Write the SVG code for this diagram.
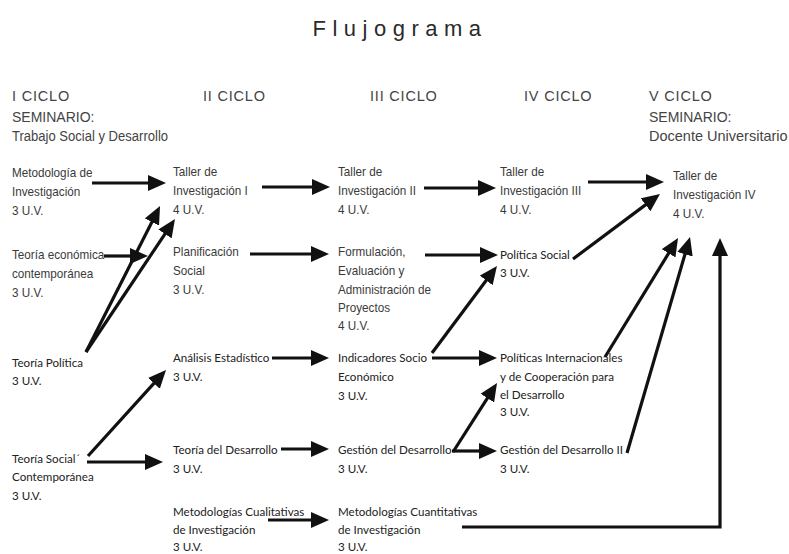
<svg xmlns="http://www.w3.org/2000/svg" width="789" height="554" viewBox="0 0 789 554">
<defs>
<style>
.t{font-family:"Liberation Sans",Arial,sans-serif;font-size:22px;fill:#2a2a2a;letter-spacing:6.5px}
.h{font-family:"Liberation Sans",Arial,sans-serif;font-size:14.5px;fill:#444;letter-spacing:0.8px}
.m{font-family:"Liberation Sans",Arial,sans-serif;font-size:14px;fill:#444}
.s{font-family:"Liberation Sans",Arial,sans-serif;font-size:14.5px;fill:#444}
.n{font-family:"Liberation Sans",Arial,sans-serif;font-size:13px;fill:#3a3a3a}
.g{font-family:Lato,"Open Sans",sans-serif;font-size:11.6px;fill:#222}
.c{fill:none;stroke:#111;stroke-width:3.2}
</style>
<marker id="ah" markerUnits="userSpaceOnUse" viewBox="0 0 18 16" markerWidth="18" markerHeight="16" refX="4" refY="8" orient="auto">
<path d="M0,0 L18,8 L0,16 z" fill="#111"/>
</marker>
</defs>
<rect width="789" height="554" fill="#fff"/>
<text class="t" x="400" y="36" text-anchor="middle">Flujograma</text>
<g id="headers">
<text class="h" x="12" y="101">I CICLO</text>
<text class="m" x="12" y="122">SEMINARIO:</text>
<text class="s" transform="translate(12,141) scale(0.9,1)">Trabajo Social y Desarrollo</text>
<text class="h" x="203" y="101">II CICLO</text>
<text class="h" x="370" y="101">III CICLO</text>
<text class="h" x="524" y="101">IV CICLO</text>
<text class="h" x="649" y="101">V CICLO</text>
<text class="m" x="649" y="122">SEMINARIO:</text>
<text class="s" x="649" y="141">Docente Universitario</text>
</g>
<g id="connectors">
<line class="c" x1="92" y1="183" x2="152" y2="183" marker-end="url(#ah)"/>
<line class="c" x1="262" y1="187" x2="316" y2="187" marker-end="url(#ah)"/>
<line class="c" x1="424" y1="188" x2="482" y2="188" marker-end="url(#ah)"/>
<line class="c" x1="588" y1="182" x2="650" y2="182" marker-end="url(#ah)"/>
<line class="c" x1="104" y1="256" x2="134" y2="256" marker-end="url(#ah)"/>
<line class="c" x1="250" y1="254" x2="315" y2="254" marker-end="url(#ah)"/>
<line class="c" x1="425" y1="255" x2="484" y2="255" marker-end="url(#ah)"/>
<line class="c" x1="272" y1="358" x2="315" y2="358" marker-end="url(#ah)"/>
<line class="c" x1="432" y1="358" x2="483" y2="358" marker-end="url(#ah)"/>
<line class="c" x1="281" y1="449" x2="315" y2="449" marker-end="url(#ah)"/>
<line class="c" x1="452" y1="451" x2="483" y2="451" marker-end="url(#ah)"/>
<line class="c" x1="268" y1="520" x2="315" y2="520" marker-end="url(#ah)"/>
<line class="c" x1="87" y1="462" x2="149" y2="462" marker-end="url(#ah)"/>
<line class="c" x1="86" y1="352" x2="153.7" y2="218.5" marker-end="url(#ah)"/>
<line class="c" x1="86" y1="352" x2="167.2" y2="230.6" marker-end="url(#ah)"/>
<line class="c" x1="88" y1="456" x2="156.6" y2="380.4" marker-end="url(#ah)"/>
<line class="c" x1="432" y1="353" x2="488.6" y2="277.2" marker-end="url(#ah)"/>
<line class="c" x1="453" y1="452" x2="489.5" y2="394.8" marker-end="url(#ah)"/>
<line class="c" x1="573" y1="259" x2="648.8" y2="202.4" marker-end="url(#ah)"/>
<line class="c" x1="605" y1="357" x2="670.7" y2="249.9" marker-end="url(#ah)"/>
<line class="c" x1="627" y1="453" x2="686.1" y2="250.4" marker-end="url(#ah)"/>
<polyline class="c" points="462,527 720,527 720,252" marker-end="url(#ah)"/>
</g>
<g id="metodologia-investigacion" transform="translate(12,0) scale(0.9,1)"><text class="n" x="0" y="177">Metodología de</text><text class="n" x="0" y="196">Investigación</text><text class="n" x="0" y="215">3 U.V.</text></g>
<g id="teoria-economica" transform="translate(12,0) scale(0.9,1)"><text class="n" x="0" y="259">Teoría económica</text><text class="n" x="0" y="278">contemporánea</text><text class="n" x="0" y="297">3 U.V.</text></g>
<g id="teoria-politica"><text class="g" x="12" y="367">Teoría Política</text><text class="g" x="12" y="385">3 U.V.</text></g>
<g id="teoria-social"><text class="g" x="12" y="463">Teoría Social´</text><text class="g" x="12" y="481">Contemporánea</text><text class="g" x="12" y="500">3 U.V.</text></g>
<g id="taller-1" transform="translate(173,0) scale(0.9,1)"><text class="n" x="0" y="176">Taller de</text><text class="n" x="0" y="195">Investigación I</text><text class="n" x="0" y="214">4 U.V.</text></g>
<g id="planificacion-social" transform="translate(173,0) scale(0.9,1)"><text class="n" x="0" y="256">Planificación</text><text class="n" x="0" y="275">Social</text><text class="n" x="0" y="294">3 U.V.</text></g>
<g id="analisis-estadistico"><text class="g" x="173" y="362">Análisis Estadístico</text><text class="g" x="173" y="381">3 U.V.</text></g>
<g id="teoria-desarrollo"><text class="g" x="173" y="454">Teoría del Desarrollo</text><text class="g" x="173" y="473">3 U.V.</text></g>
<g id="metodologias-cualitativas"><text class="g" x="173" y="516">Metodologías Cualitativas</text><text class="g" x="173" y="534">de Investigación</text><text class="g" x="173" y="551">3 U.V.</text></g>
<g id="taller-2" transform="translate(338,0) scale(0.9,1)"><text class="n" x="0" y="176">Taller de</text><text class="n" x="0" y="195">Investigación II</text><text class="n" x="0" y="214">4 U.V.</text></g>
<g id="formulacion" transform="translate(338,0) scale(0.9,1)"><text class="n" x="0" y="256">Formulación,</text><text class="n" x="0" y="275">Evaluación y</text><text class="n" x="0" y="294">Administración de</text><text class="n" x="0" y="312">Proyectos</text><text class="n" x="0" y="330">4 U.V.</text></g>
<g id="indicadores"><text class="g" x="338" y="362">Indicadores Socio</text><text class="g" x="338" y="381">Económico</text><text class="g" x="338" y="400">3 U.V.</text></g>
<g id="gestion-desarrollo"><text class="g" x="338" y="454">Gestión del Desarrollo</text><text class="g" x="338" y="473">3 U.V.</text></g>
<g id="metodologias-cuantitativas"><text class="g" x="338" y="516">Metodologías Cuantitativas</text><text class="g" x="338" y="534">de Investigación</text><text class="g" x="338" y="551">3 U.V.</text></g>
<g id="taller-3" transform="translate(500,0) scale(0.9,1)"><text class="n" x="0" y="176">Taller de</text><text class="n" x="0" y="195">Investigación III</text><text class="n" x="0" y="214">4 U.V.</text></g>
<g id="politica-social"><text class="g" x="500" y="259">Política Social</text><text class="g" x="500" y="277">3 U.V.</text></g>
<g id="politicas-internacionales"><text class="g" x="500" y="362">Políticas Internacionales</text><text class="g" x="500" y="381">y de Cooperación para</text><text class="g" x="500" y="399">el Desarrollo</text><text class="g" x="500" y="416">3 U.V.</text></g>
<g id="gestion-desarrollo-2"><text class="g" x="500" y="454">Gestión del Desarrollo II</text><text class="g" x="500" y="473">3 U.V.</text></g>
<g id="taller-4" transform="translate(673,0) scale(0.9,1)"><text class="n" x="0" y="180">Taller de</text><text class="n" x="0" y="199">Investigación IV</text><text class="n" x="0" y="218">4 U.V.</text></g>
</svg>
